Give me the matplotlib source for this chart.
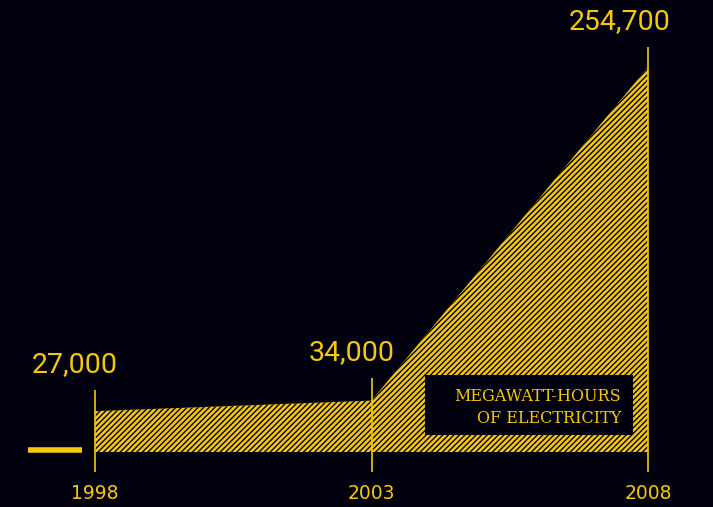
import matplotlib
matplotlib.use("Agg")
import matplotlib.pyplot as plt
from matplotlib.patches import Rectangle

years = [1998, 2003, 2008]
values = [27000, 34000, 254700]
value_labels = ["27,000", "34,000", "254,700"]
year_labels = ["1998", "2003", "2008"]

BG = "#02020f"
YEL = "#f7c70a"
plt.rcParams['hatch.linewidth'] = 1.0

fig = plt.figure(figsize=(7.13, 5.07), dpi=100, facecolor=BG)
ax = fig.add_axes([0, 0, 1, 1])
ax.set_facecolor(BG)
ax.axis('off')

pxy = (648 - 95) / 10.0
ax.set_xlim(1998 - 95 / pxy, 2008 + (713 - 648) / pxy)
upp = 254700 / (452 - 67)
ax.set_ylim(-(507 - 452) * upp, 452 * upp)

ax.fill_between(years, 0, values, facecolor=YEL, edgecolor=BG, hatch='//////',
                linewidth=0, zorder=2)

tops = [390, 378, 47]
for yr, v, top in zip(years, values, tops):
    ytop = (452 - top) * upp
    ax.plot([yr, yr], [-(472 - 452) * upp, ytop], color=YEL, lw=1.2, zorder=3,
            solid_capstyle='butt')

for yr, v, lab, top in zip(years, values, value_labels, tops):
    ax.annotate(lab, xy=(yr, (452 - top) * upp), xytext=(23 * 0.72, 18 * 0.72),
                textcoords='offset points', ha='right', va='baseline',
                color=YEL, fontsize=20.5, family='Roboto', zorder=4)

for yr, lab in zip(years, year_labels):
    ax.text(yr, -(499 - 452) * upp, lab,
            ha='center', va='baseline', color=YEL, fontsize=13.5,
            family='DejaVu Sans', zorder=4)

ax.plot([1998 - 67 / pxy, 1998 - 13 / pxy], [2.5 * upp, 2.5 * upp], color=YEL,
        lw=4, solid_capstyle='butt', zorder=3)

x0 = 1998 + (425 - 95) / pxy
x1 = 1998 + (633 - 95) / pxy
y0 = (452 - 435) * upp
y1 = (452 - 375) * upp
ax.add_patch(Rectangle((x0, y0), x1 - x0, y1 - y0, facecolor=BG, edgecolor='none', zorder=3))
ax.text(1998 + (621 - 95) / pxy, (452 - 401) * upp, "MEGAWATT-HOURS",
        ha='right', va='baseline', color=YEL, fontsize=11.5, family='DejaVu Serif', zorder=4)
ax.text(1998 + (621 - 95) / pxy, (452 - 423) * upp, "OF ELECTRICITY",
        ha='right', va='baseline', color=YEL, fontsize=11.5, family='DejaVu Serif', zorder=4)

fig.savefig("out.png", dpi=100, facecolor=BG)
